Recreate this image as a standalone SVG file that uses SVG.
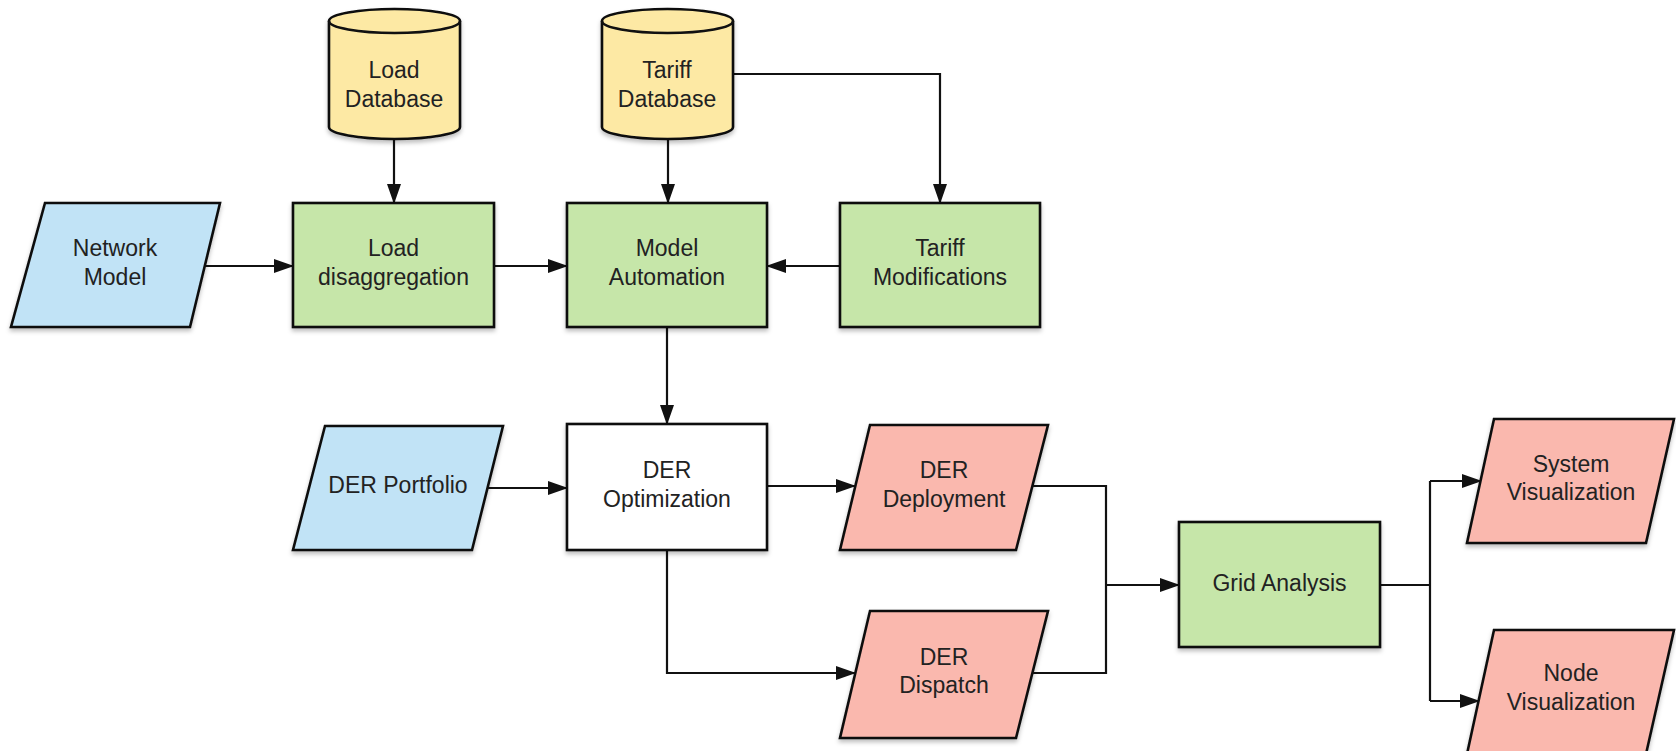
<svg xmlns="http://www.w3.org/2000/svg" width="1676" height="751" viewBox="0 0 1676 751">
<style>
.n{stroke:#111;stroke-width:2.6;filter:url(#sh)}
.blue{fill:#c1e3f6}.green{fill:#c6e6a9}.yellow{fill:#fde9a4}.pink{fill:#fab8ae}.white{fill:#fff}
text{font-family:"Liberation Sans",Arial,sans-serif;font-size:23px;fill:#222;text-anchor:middle}
.c{fill:none;stroke:#111;stroke-width:2.2}
</style>
<defs>
<filter id="sh" x="-10%" y="-10%" width="120%" height="130%"><feDropShadow dx="0" dy="3" stdDeviation="2" flood-color="#000" flood-opacity="0.25"/></filter>
<marker id="ah" markerUnits="userSpaceOnUse" markerWidth="20" markerHeight="14" refX="19" refY="7" orient="auto"><path d="M0,0 L20,7 L0,14 Z" fill="#111"/></marker>
</defs>
<g id="connectors">
<path class="c" d="M394,139 V203" marker-end="url(#ah)"/>
<path class="c" d="M668,139 V203" marker-end="url(#ah)"/>
<path class="c" d="M733,74 H940 V203" marker-end="url(#ah)"/>
<path class="c" d="M194,266 H293" marker-end="url(#ah)"/>
<path class="c" d="M494,266 H567" marker-end="url(#ah)"/>
<path class="c" d="M840,266 H767" marker-end="url(#ah)"/>
<path class="c" d="M667,327 V424" marker-end="url(#ah)"/>
<path class="c" d="M488,488 H567" marker-end="url(#ah)"/>
<path class="c" d="M767,486 H855" marker-end="url(#ah)"/>
<path class="c" d="M667,550 V673 H855" marker-end="url(#ah)"/>
<path class="c" d="M1033,486 H1106 V673 H1003"/>
<path class="c" d="M1106,585 H1179" marker-end="url(#ah)"/>
<path class="c" d="M1380,585 H1430 M1430,481 V701"/>
<path class="c" d="M1430,481 H1481" marker-end="url(#ah)"/>
<path class="c" d="M1430,701 H1479" marker-end="url(#ah)"/>
</g>
<g id="load-database">
<path class="n yellow" d="M329,21 A65.5,12 0 0 1 460,21 V127 A65.5,12 0 0 1 329,127 Z"/>
<path fill="none" stroke="#111" stroke-width="2.6" d="M329,21 A65.5,12 0 0 0 460,21"/>
<text x="394" y="78">Load</text><text x="394" y="107">Database</text>
</g>
<g id="tariff-database">
<path class="n yellow" d="M602,21 A65.5,12 0 0 1 733,21 V127 A65.5,12 0 0 1 602,127 Z"/>
<path fill="none" stroke="#111" stroke-width="2.6" d="M602,21 A65.5,12 0 0 0 733,21"/>
<text x="667" y="78">Tariff</text><text x="667" y="107">Database</text>
</g>
<g id="network-model">
<path class="n blue" d="M45,203 H220 L190,327 H11 Z"/>
<text x="115" y="256">Network</text><text x="115" y="285">Model</text>
</g>
<g id="load-disaggregation">
<rect class="n green" x="293" y="203" width="201" height="124"/>
<text x="393.5" y="256">Load</text><text x="393.5" y="285">disaggregation</text>
</g>
<g id="model-automation">
<rect class="n green" x="567" y="203" width="200" height="124"/>
<text x="667" y="256">Model</text><text x="667" y="285">Automation</text>
</g>
<g id="tariff-modifications">
<rect class="n green" x="840" y="203" width="200" height="124"/>
<text x="940" y="256">Tariff</text><text x="940" y="285">Modifications</text>
</g>
<g id="der-portfolio">
<path class="n blue" d="M325,426 H503 L472,550 H293 Z"/>
<text x="398" y="493">DER Portfolio</text>
</g>
<g id="der-optimization">
<rect class="n white" x="567" y="424" width="200" height="126"/>
<text x="667" y="478">DER</text><text x="667" y="507">Optimization</text>
</g>
<g id="der-deployment">
<path class="n pink" d="M870,425 H1048 L1016,550 H840 Z"/>
<text x="944" y="478">DER</text><text x="944" y="507">Deployment</text>
</g>
<g id="der-dispatch">
<path class="n pink" d="M870,611 H1048 L1016,738 H840 Z"/>
<text x="944" y="665">DER</text><text x="944" y="693">Dispatch</text>
</g>
<g id="grid-analysis">
<rect class="n green" x="1179" y="522" width="201" height="125"/>
<text x="1279.5" y="591">Grid Analysis</text>
</g>
<g id="system-visualization">
<path class="n pink" d="M1494,419 H1674 L1646,543 H1467 Z"/>
<text x="1571" y="472">System</text><text x="1571" y="500">Visualization</text>
</g>
<g id="node-visualization">
<path class="n pink" d="M1494,630 H1674 L1646,754 H1467 Z"/>
<text x="1571" y="681">Node</text><text x="1571" y="710">Visualization</text>
</g>
</svg>
